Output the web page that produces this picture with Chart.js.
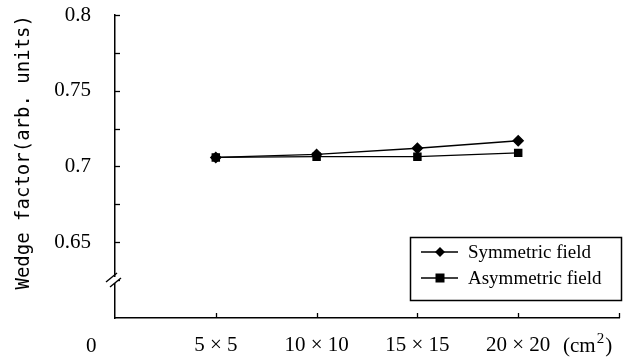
<!DOCTYPE html>
<html>
<head>
<meta charset="utf-8">
<script src="https://cdn.jsdelivr.net/npm/chart.js@4"></script>
<style>
  html, body { margin: 0; padding: 0; background: #fff; }
  #wrap { width: 636px; height: 361px; }
</style>
</head>
<body>
<div id="wrap"><canvas id="c" width="636" height="361"></canvas></div>
<script>
var categories = ['5 \u00d7 5', '10 \u00d7 10', '15 \u00d7 15', '20 \u00d7 20'];
var symmetricVals = [0.706, 0.708, 0.712, 0.717];
var asymmetricVals = [0.706, 0.7065, 0.7065, 0.709];
var yLabels = { '0.65': '0.65', '0.7': '0.7', '0.75': '0.75', '0.8': '0.8' };

var serif = '"Liberation Serif", "Times New Roman", serif';

function pts(vals) {
    return vals.map(function (v, i) { return { x: i + 1, y: v }; });
}

// white page, inward ticks, axis break, origin text, unit text, legend box
var extras = {
    id: 'extras',
    beforeDraw: function (chart) {
        var c = chart.ctx;
        c.save();
        c.fillStyle = '#fff';
        c.fillRect(0, 0, chart.width, chart.height);
        c.restore();
    },
    afterDraw: function (chart) {
        var c = chart.ctx, xs = chart.scales.x, ys = chart.scales.y;
        var left = chart.chartArea.left, bottom = chart.chartArea.bottom;
        c.save();
        c.strokeStyle = '#000';
        c.lineWidth = 1.3;
        // y ticks pointing in
        for (var v = 0.625; v <= 0.8001; v += 0.025) {
            var py = Math.round(ys.getPixelForValue(v)) + 0.5;
            c.beginPath(); c.moveTo(left, py); c.lineTo(left + 5, py); c.stroke();
        }
        // x ticks pointing up
        for (var k = 1; k <= 5; k++) {
            var px = Math.round(xs.getPixelForValue(k)) + 0.5;
            c.beginPath(); c.moveTo(px, bottom); c.lineTo(px, bottom - 5); c.stroke();
        }
        // axis break
        c.fillStyle = '#fff';
        c.fillRect(left - 3, 277, 6, 6);
        c.lineWidth = 1.4;
        c.beginPath(); c.moveTo(106, 282); c.lineTo(117, 273); c.stroke();
        c.beginPath(); c.moveTo(110, 287); c.lineTo(121, 278); c.stroke();

        // origin and unit
        c.fillStyle = '#000';
        c.font = '21px ' + serif;
        c.textBaseline = 'alphabetic';
        c.textAlign = 'left';
        c.fillText('0', 86, 352);
        var ux = 563;
        c.fillText('(cm', ux, 352);
        var w = c.measureText('(cm').width;
        c.font = '15px ' + serif;
        c.fillText('2', ux + w + 1, 343);
        var w2 = c.measureText('2').width;
        c.font = '21px ' + serif;
        c.fillText(')', ux + w + w2 + 2, 352);

        // legend
        var bx = 410, by = 237, bw = 211, bh = 63;
        c.lineWidth = 1.5;
        c.strokeRect(bx + 0.5, by + 0.5, bw, bh);
        c.font = '19px ' + serif;
        c.textAlign = 'left';
        c.textBaseline = 'middle';
        chart.data.datasets.forEach(function (ds, i) {
            var ry = by + 15 + i * 26;
            c.lineWidth = 1.5;
            c.beginPath(); c.moveTo(421, ry); c.lineTo(458, ry); c.stroke();
            c.fillStyle = '#000';
            c.beginPath();
            if (ds.pointStyle === 'rectRot') {
                c.moveTo(440, ry - 5); c.lineTo(445, ry); c.lineTo(440, ry + 5); c.lineTo(435, ry);
                c.closePath();
            } else {
                c.rect(435.5, ry - 4.5, 9, 9);
            }
            c.fill();
            c.fillText(ds.label, 468, ry + 1);
        });
        c.restore();
    }
};

var ctx = document.getElementById('c').getContext('2d');
var chart = new Chart(ctx, {
    type: 'line',
    data: {
        datasets: [{
            label: 'Symmetric field',
            data: pts(symmetricVals),
            borderColor: '#000',
            backgroundColor: '#000',
            borderWidth: 1.4,
            pointStyle: 'rectRot',
            pointRadius: 5,
            pointHoverRadius: 5
        }, {
            label: 'Asymmetric field',
            data: pts(asymmetricVals),
            borderColor: '#000',
            backgroundColor: '#000',
            borderWidth: 1.4,
            pointStyle: 'rect',
            pointRadius: 5,
            pointHoverRadius: 5
        }]
    },
    options: {
        responsive: false,
        animation: false,
        layout: { padding: { top: 15, right: 17, left: 0, bottom: 0 } },
        plugins: { legend: { display: false }, tooltip: { enabled: false } },
        scales: {
            x: {
                type: 'linear',
                min: 0,
                max: 5,
                afterFit: function (s) { s.height = 43; s.paddingLeft = 0; s.paddingRight = 0; },
                afterBuildTicks: function (s) {
                    s.ticks = [1, 2, 3, 4].map(function (v) { return { value: v }; });
                },
                grid: { display: true, drawOnChartArea: false, drawTicks: false },
                border: { display: true, color: '#000', width: 1.5 },
                ticks: {
                    color: '#000',
                    padding: 15,
                    maxRotation: 0,
                    autoSkip: false,
                    font: { family: serif, size: 21 },
                    callback: function (v) { return categories[v - 1] || ''; }
                }
            },
            y: {
                min: 0.6,
                max: 0.8,
                afterFit: function (s) { s.width = 115; s.paddingTop = 0; s.paddingBottom = 0; },
                grid: { display: true, drawOnChartArea: false, drawTicks: false },
                border: { display: true, color: '#000', width: 1.5 },
                ticks: {
                    stepSize: 0.025,
                    color: '#000',
                    padding: 24,
                    autoSkip: false,
                    font: { family: serif, size: 21 },
                    callback: function (v) {
                        var key = String(Math.round(v * 1000) / 1000);
                        return yLabels[key] || '';
                    }
                },
                title: {
                    display: true,
                    text: 'Wedge factor(arb. units)',
                    align: 'end',
                    color: '#000',
                    padding: { top: 13, bottom: 0 },
                    font: { family: '"DejaVu Sans Mono", monospace', size: 19 }
                }
            }
        }
    },
    plugins: [extras]
});
</script>
</body>
</html>
